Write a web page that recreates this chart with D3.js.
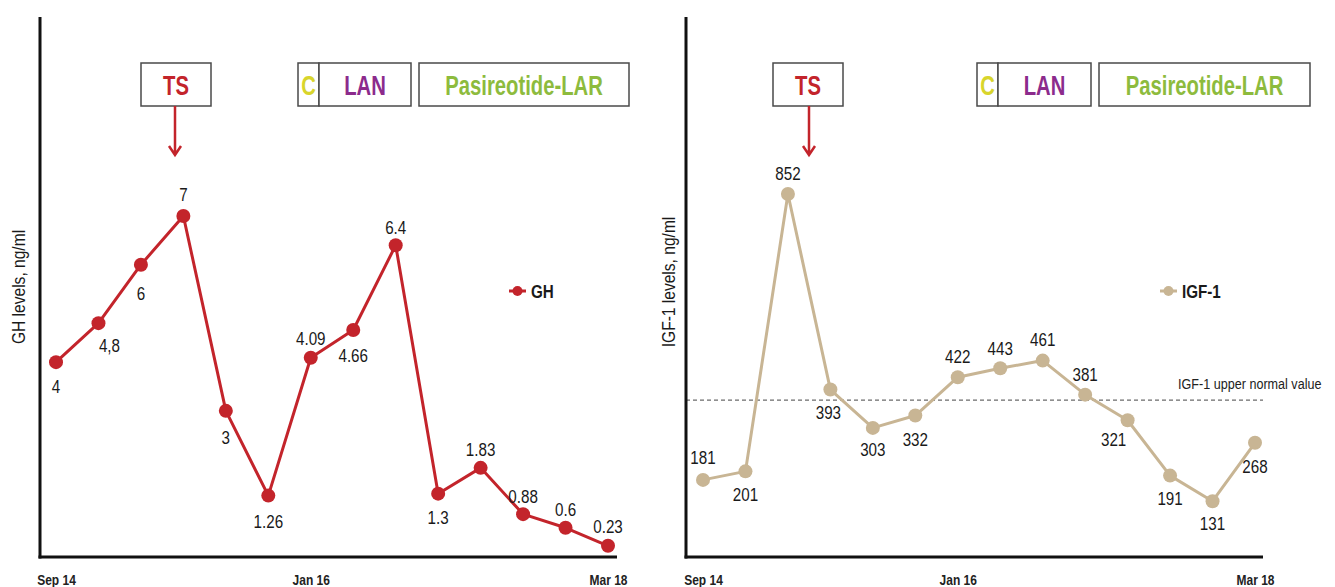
<!DOCTYPE html>
<html>
<head>
<meta charset="utf-8">
<script src="https://cdn.jsdelivr.net/npm/d3@7"></script>
<style>
  html, body { margin: 0; padding: 0; background: #fff; }
  svg { display: block; }
  text { font-family: "Liberation Sans", Arial, sans-serif; }
</style>
</head>
<body>
<svg id="chart" width="1335" height="587"></svg>
<script>
// ---------------- DATA ----------------
const ghValues = [4, 4.8, 6, 7, 3, 1.26, 4.09, 4.66, 6.4, 1.3, 1.83, 0.88, 0.6, 0.23];
const ghValueLabels = ["4", "4,8", "6", "7", "3", "1.26", "4.09", "4.66", "6.4", "1.3", "1.83", "0.88", "0.6", "0.23"];
const igfValues = [181, 201, 852, 393, 303, 332, 422, 443, 461, 381, 321, 191, 131, 268];
const igfValueLabels = igfValues.map(String);
const xTickIndex = [0, 6, 13];
const xTickLabels = ["Sep 14", "Jan 16", "Mar 18"];
const igfUpperNormal = 368;
const treatments = ["TS", "C", "LAN", "Pasireotide-LAR"];

// ---------------- LAYOUT ----------------
const svg = d3.select("#chart");
const RED = "#c3242b", TAN = "#c8b594";
const treatColors = { "TS": "#c3242b", "C": "#d8d52c", "LAN": "#8c2b8c", "Pasireotide-LAR": "#8dbb3d" };

// label offsets (dx, dy) relative to the point
const ghLabelOff = [[0,24],[11,22],[0,29],[0,-22],[0,27],[0,26],[0,-19],[0,25],[0,-18],[0,24],[0,-18],[0,-18],[0,-18],[0,-19]];
const igfLabelOff = [[0,-23],[0,23],[0,-21],[-2,23],[0,21],[0,24],[0,-21],[0,-20],[0,-21],[0,-20],[-14,19],[0,23],[0,22],[0,24]];

const panels = [
  {
    values: ghValues, valueLabels: ghValueLabels, offs: ghLabelOff, color: RED, maxV: 7,
    axisX: 40, axisRight: 617, xRange: [56, 608], yTop: 216,
    yTitle: "GH levels, ng/ml", yTitleX: 18, yTitleY: 287,
    legend: "GH", legendX: 509,
    tsBox: [141, 211], tsArrowX: 175,
    cBox: [298, 319], lanBox: [319, 411], pasBox: [419, 629],
    refLine: null
  },
  {
    values: igfValues, valueLabels: igfValueLabels, offs: igfLabelOff, color: TAN, maxV: 852,
    axisX: 686, axisRight: 1263, xRange: [703, 1255], yTop: 194,
    yTitle: "IGF-1 levels, ng/ml", yTitleX: 668, yTitleY: 282,
    legend: "IGF-1", legendX: 1160,
    tsBox: [773, 843], tsArrowX: 809,
    cBox: [977, 998], lanBox: [998, 1091], pasBox: [1099, 1310],
    refLine: igfUpperNormal
  }
];

const axisBottomY = 557, axisTopY = 17;
const boxTop = 63, boxBottom = 106;
const tf = (x, y, sx, rot) => `translate(${x},${y})${rot ? ` rotate(${rot})` : ""} scale(${sx},1)`;

panels.forEach(p => {
  const g = svg.append("g");
  const idx = d3.range(p.values.length);
  const x = d3.scalePoint().domain(idx).range(p.xRange).padding(0);
  const y = d3.scaleLinear().domain([0, p.maxV]).range([axisBottomY, p.yTop]);

  // reference dashed line
  if (p.refLine !== null) {
    g.append("line")
      .attr("x1", p.axisX).attr("x2", p.axisRight)
      .attr("y1", y(p.refLine)).attr("y2", y(p.refLine))
      .attr("stroke", "#6b6b6b").attr("stroke-width", 1.2)
      .attr("stroke-dasharray", "4,3");
    g.append("text")
      .attr("transform", tf(1178, y(p.refLine) - 11, 0.84))
      .attr("font-size", 15).attr("fill", "#222")
      .text("IGF-1 upper normal value");
  }

  // x axis labels via d3 axis
  const xAxis = d3.axisBottom(x).tickValues(xTickIndex)
    .tickFormat((d) => xTickLabels[xTickIndex.indexOf(d)]).tickSize(0).tickPadding(0);
  const ax = g.append("g").attr("transform", `translate(0,${axisBottomY})`).call(xAxis);
  ax.select(".domain").remove();
  ax.selectAll("text")
    .attr("font-family", '"Liberation Sans", Arial, sans-serif')
    .attr("font-size", 15).attr("font-weight", "bold").attr("fill", "#222")
    .attr("dy", null).attr("y", 0)
    .attr("transform", tf(0, 28, 0.8));

  // axis lines
  g.append("line").attr("x1", p.axisX).attr("x2", p.axisX)
    .attr("y1", axisTopY).attr("y2", axisBottomY + 1.5)
    .attr("stroke", "#111").attr("stroke-width", 3);
  g.append("line").attr("x1", p.axisX - 1.5).attr("x2", p.axisRight)
    .attr("y1", axisBottomY).attr("y2", axisBottomY)
    .attr("stroke", "#111").attr("stroke-width", 3);

  // y title
  g.append("text")
    .attr("transform", tf(p.yTitleX, p.yTitleY, 0.82, -90))
    .attr("text-anchor", "middle").attr("dominant-baseline", "central")
    .attr("font-size", 19).attr("fill", "#1a1a1a")
    .text(p.yTitle);

  // line
  const line = d3.line().x((d, i) => x(i)).y(d => y(d));
  g.append("path").datum(p.values)
    .attr("d", line).attr("fill", "none")
    .attr("stroke", p.color).attr("stroke-width", 3).attr("stroke-linejoin", "round");

  // points
  g.selectAll("circle.pt").data(p.values).join("circle")
    .attr("class", "pt")
    .attr("cx", (d, i) => x(i)).attr("cy", d => y(d)).attr("r", 7)
    .attr("fill", p.color);

  // value labels
  g.selectAll("text.val").data(p.values).join("text")
    .attr("class", "val")
    .attr("transform", (d, i) => tf(x(i) + p.offs[i][0], y(d) + p.offs[i][1], 0.8))
    .attr("text-anchor", "middle").attr("dominant-baseline", "central")
    .attr("font-size", 19).attr("fill", "#1a1a1a")
    .text((d, i) => p.valueLabels[i]);

  // legend
  const ly = 291;
  g.append("line").attr("x1", p.legendX).attr("x2", p.legendX + 17)
    .attr("y1", ly).attr("y2", ly).attr("stroke", p.color).attr("stroke-width", 3);
  g.append("circle").attr("cx", p.legendX + 8.5).attr("cy", ly).attr("r", 5).attr("fill", p.color);
  g.append("text").attr("transform", tf(p.legendX + 22, ly, 0.8))
    .attr("dominant-baseline", "central")
    .attr("font-size", 19).attr("font-weight", "bold").attr("fill", "#1a1a1a")
    .text(p.legend);

  // treatment boxes
  const boxes = [
    { name: treatments[0], x0: p.tsBox[0], x1: p.tsBox[1] },
    { name: treatments[1], x0: p.cBox[0], x1: p.cBox[1] },
    { name: treatments[2], x0: p.lanBox[0], x1: p.lanBox[1] },
    { name: treatments[3], x0: p.pasBox[0], x1: p.pasBox[1] }
  ];
  boxes.forEach(b => {
    g.append("rect").attr("x", b.x0).attr("y", boxTop)
      .attr("width", b.x1 - b.x0).attr("height", boxBottom - boxTop)
      .attr("fill", "#fff").attr("stroke", "#4a4a4a").attr("stroke-width", 1.5);
    g.append("text")
      .attr("transform", tf((b.x0 + b.x1) / 2, (boxTop + boxBottom) / 2 + 1, 0.75))
      .attr("text-anchor", "middle").attr("dominant-baseline", "central")
      .attr("font-size", 27).attr("font-weight", "bold")
      .attr("fill", treatColors[b.name])
      .text(b.name);
  });

  // TS arrow
  const ax0 = p.tsArrowX;
  g.append("path")
    .attr("d", `M${ax0},${boxBottom} L${ax0},${155} M${ax0 - 6},${146} L${ax0},${155} L${ax0 + 6},${146}`)
    .attr("fill", "none").attr("stroke", RED).attr("stroke-width", 2.5);
});
</script>
</body>
</html>
